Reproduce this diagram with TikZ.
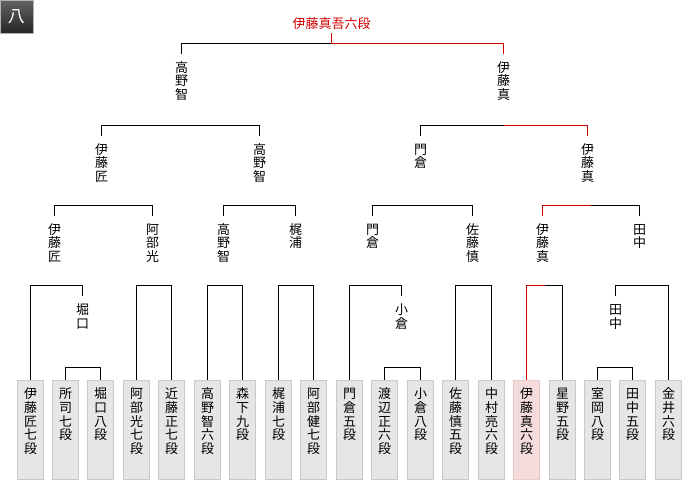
\documentclass[tikz,border=0pt]{standalone}
\usepackage{fontspec}
\setmainfont{Noto Sans CJK JP}
\usepackage{xcolor}
\usepackage{tikz}
\usetikzlibrary{calc}

\definecolor{winred}{HTML}{D40000}
\definecolor{boxfill}{HTML}{E6E6E6}
\definecolor{boxline}{HTML}{C8C8C8}
\definecolor{minefill}{HTML}{F5DCDC}
\definecolor{mineline}{HTML}{EDC8C8}

\newcommand{\jpfont}{\fontsize{13}{13.8}\selectfont}
% bracket between two nodes, horizontal bar at height #3
\newcommand{\bracket}[3]{\draw (#1.north) -- (#1.north |- 0,#3) -| (#2.north);}

\tikzset{
  player/.style={anchor=north, draw=boxline, fill=boxfill, line width=1pt, text width=26pt,
    inner xsep=0pt, inner ysep=7.5pt, text height=11pt, text depth=73pt, align=center, font=\jpfont},
  winner/.style={anchor=north, text width=20pt, inner xsep=0pt, inner ysep=7pt, text height=11pt, align=center, font=\jpfont},
}

\begin{document}
\begin{tikzpicture}[x=1pt, y=-1pt, line width=1pt]

    % 1. Canvas and badge
    \fill[white] (0,0) rectangle (700,480);
    \useasboundingbox (0,0) rectangle (700,480);
    \shade[top color=black!62, bottom color=black!85, draw=black!30] (0.5,0.5) rectangle (33,33);
    \node[text=white, font=\fontsize{17}{17}\selectfont] (badge) at (16.5,16.5) {八};

    % 2. Players (bottom row)
    \foreach \nm/\fc/\dc [count=\i from 0] in {
        {伊\\藤\\匠\\七\\段}/boxfill/boxline, {所\\司\\七\\段}/boxfill/boxline, {堀\\口\\八\\段}/boxfill/boxline,
        {阿\\部\\光\\七\\段}/boxfill/boxline, {近\\藤\\正\\七\\段}/boxfill/boxline, {高\\野\\智\\六\\段}/boxfill/boxline,
        {森\\下\\九\\段}/boxfill/boxline, {梶\\浦\\七\\段}/boxfill/boxline, {阿\\部\\健\\七\\段}/boxfill/boxline,
        {門\\倉\\五\\段}/boxfill/boxline, {渡\\辺\\正\\六\\段}/boxfill/boxline, {小\\倉\\八\\段}/boxfill/boxline,
        {佐\\藤\\慎\\五\\段}/boxfill/boxline, {中\\村\\亮\\六\\段}/boxfill/boxline, {伊\\藤\\真\\六\\段}/minefill/mineline,
        {星\\野\\五\\段}/boxfill/boxline, {室\\岡\\八\\段}/boxfill/boxline, {田\\中\\五\\段}/boxfill/boxline,
        {金\\井\\六\\段}/boxfill/boxline}
        \node[player, fill=\fc, draw=\dc] (p\i) at ({round(29.5+35.47*\i)+0.5},379.5) {\nm};

    % 3. Winners of the first small matches
    \node[winner] (hori) at (82.5,296) {堀\\口};
    \node[winner] (ogura) at (401.5,296) {小\\倉};
    \node[winner] (tanaka) at (615.5,296) {田\\中};

    % 4. Round labels
    \node[winner] (q1) at (54.5,215.5) {伊\\藤\\匠};
    \node[winner] (q2) at (152.5,215.5) {阿\\部\\光};
    \node[winner] (q3) at (223.5,215.5) {高\\野\\智};
    \node[winner] (q4) at (295.5,215.5) {梶\\浦};
    \node[winner] (q5) at (372.5,215.5) {門\\倉};
    \node[winner] (q6) at (472.5,215.5) {佐\\藤\\慎};
    \node[winner] (q7) at (542.5,215.5) {伊\\藤\\真};
    \node[winner] (q8) at (639.5,215.5) {田\\中};

    \node[winner] (s1) at (101.5,135.5) {伊\\藤\\匠};
    \node[winner] (s2) at (259.5,135.5) {高\\野\\智};
    \node[winner] (s3) at (420.5,135.5) {門\\倉};
    \node[winner] (s4) at (587.5,135.5) {伊\\藤\\真};

    \node[winner] (f1) at (181.5,53.5) {高\\野\\智};
    \node[winner] (f2) at (503.5,53.5) {伊\\藤\\真};

    \node[anchor=south, inner sep=0pt, inner ysep=3.3pt, text=winred, font=\jpfont] (champ) at (331.5,33.3) {伊藤真吾六段};

    % 5. Brackets
    \bracket{p1}{p2}{367.5}
    \bracket{p10}{p11}{367.5}
    \bracket{p16}{p17}{367.5}

    \bracket{p0}{hori}{285.5}
    \bracket{p3}{p4}{285.5}
    \bracket{p5}{p6}{285.5}
    \bracket{p7}{p8}{285.5}
    \bracket{p9}{ogura}{285.5}
    \bracket{p12}{p13}{285.5}
    \bracket{p14}{p15}{285.5}
    \bracket{tanaka}{p18}{285.5}

    \bracket{q1}{q2}{205.5}
    \bracket{q3}{q4}{205.5}
    \bracket{q5}{q6}{205.5}
    \bracket{q7}{q8}{205.5}

    \bracket{s1}{s2}{125.5}
    \bracket{s3}{s4}{125.5}

    \draw (f1.north) -- (f1.north |- 0,43.5) -- (champ.south |- 0,43.5);

    % 6. Winning path in red
    \draw[winred] (p14.north) -- (p14.north |- 0,285.5) -- ($(p14.north |- 0,285.5)!0.5!(p15.north |- 0,285.5)$);
    \draw[winred] (q7.north) -- (q7.north |- 0,205.5) -- ($(q7.north |- 0,205.5)!0.5!(q8.north |- 0,205.5)$);
    \draw[winred] (s4.north) -- (s4.north |- 0,125.5) -- ($(s3.north |- 0,125.5)!0.5!(s4.north |- 0,125.5)$);
    \draw[winred] (champ.south) -- (champ.south |- 0,43.5) -| (f2.north);

\end{tikzpicture}
\end{document}
